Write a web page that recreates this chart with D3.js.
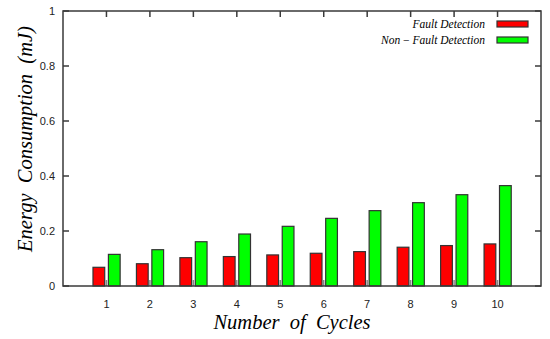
<!DOCTYPE html>
<meta charset="utf-8">
<script src="https://d3js.org/d3.v7.min.js"></script>
<style>
  body { margin: 0; background: #fff; }
  text { font-family: "Liberation Sans", Arial, sans-serif; }
  .serif { font-family: "Liberation Serif", "Times New Roman", serif; font-style: italic; white-space: pre; }
</style>
<div id="chart"></div>
<script>

    // data
    var cycles = [1, 2, 3, 4, 5, 6, 7, 8, 9, 10];
    var faultDetection    = [0.068, 0.081, 0.103, 0.107, 0.113, 0.119, 0.125, 0.141, 0.147, 0.153];
    var nonFaultDetection = [0.115, 0.132, 0.161, 0.189, 0.217, 0.246, 0.274, 0.303, 0.332, 0.365];
    var yTicks = [0, 0.2, 0.4, 0.6, 0.8, 1];
    var seriesNames = ["Fault Detection", "Non\u2009\u2212\u2009Fault Detection"];
    var seriesColors = ["#ff0000", "#00ff00"];

    // plot area
    var plotLeft = 63, plotRight = 541, plotTop = 11, plotBottom = 286;

    var x = d3.scaleLinear().domain([0, 11]).range([plotLeft, plotRight]);
    var y = d3.scaleLinear().domain([0, 1]).range([plotBottom, plotTop]);

    var svg = d3.select("#chart")
        .append("svg")
        .attr("width", 550)
        .attr("height", 339);

    var frameColor = "#3a3a3a";
    var tickLen = 6;

    // inward ticks on all four sides
    cycles.forEach(function(c) {
        svg.append("line").attr("x1", x(c)).attr("x2", x(c))
            .attr("y1", plotBottom).attr("y2", plotBottom - tickLen)
            .attr("stroke", "#888").attr("stroke-width", 1.5);
        svg.append("line").attr("x1", x(c)).attr("x2", x(c))
            .attr("y1", plotTop).attr("y2", plotTop + tickLen)
            .attr("stroke", frameColor).attr("stroke-width", 1.5);
    });
    yTicks.forEach(function(t) {
        svg.append("line").attr("x1", plotLeft).attr("x2", plotLeft + tickLen)
            .attr("y1", y(t)).attr("y2", y(t))
            .attr("stroke", frameColor).attr("stroke-width", 1.5);
        svg.append("line").attr("x1", plotRight).attr("x2", plotRight - tickLen)
            .attr("y1", y(t)).attr("y2", y(t))
            .attr("stroke", frameColor).attr("stroke-width", 1.5);
    });

    // bars
    var unit = x(1) - x(0);
    var barW = unit * 0.27;
    var series = [faultDetection, nonFaultDetection];
    var offsets = [-unit * 0.31, unit * 0.045];

    series.forEach(function(vals, si) {
        svg.selectAll(".bar" + si)
            .data(vals)
            .enter()
            .append("rect")
            .attr("class", "bar" + si)
            .attr("x", function(d, i) { return x(cycles[i]) + offsets[si]; })
            .attr("width", barW)
            .attr("y", function(d) { return y(d); })
            .attr("height", function(d) { return y(0) - y(d); })
            .style("fill", seriesColors[si])
            .style("stroke", "#333")
            .style("stroke-width", 1.2);
    });

    // frame
    svg.append("rect")
        .attr("x", plotLeft).attr("y", plotTop)
        .attr("width", plotRight - plotLeft).attr("height", plotBottom - plotTop)
        .attr("fill", "none")
        .attr("stroke", frameColor)
        .attr("stroke-width", 1.5);

    // tick labels
    svg.selectAll(".xlab")
        .data(cycles)
        .enter()
        .append("text")
        .attr("x", function(d) { return x(d); })
        .attr("y", 307.5)
        .attr("text-anchor", "middle")
        .style("font-size", "11px")
        .style("fill", "#222")
        .text(function(d) { return d; });

    svg.selectAll(".ylab")
        .data(yTicks)
        .enter()
        .append("text")
        .attr("x", 55)
        .attr("y", function(d) { return y(d) + 4; })
        .attr("text-anchor", "end")
        .style("font-size", "11px")
        .style("fill", "#222")
        .text(function(d) { return d; });

    // axis titles
    svg.append("text")
        .attr("class", "serif")
        .attr("x", 292)
        .attr("y", 328.5)
        .attr("text-anchor", "middle")
        .style("font-size", "20.5px")
        .text("Number  of  Cycles");

    svg.append("text")
        .attr("class", "serif")
        .attr("transform", "translate(32,139) rotate(-90)")
        .attr("text-anchor", "middle")
        .style("font-size", "20.5px")
        .text("Energy  Consumption  (mJ)");

    // legend
    seriesNames.forEach(function(name, i) {
        var ly = 24 + i * 16;
        svg.append("rect")
            .attr("x", 497).attr("y", ly - 3)
            .attr("width", 31).attr("height", 6)
            .style("fill", seriesColors[i])
            .style("stroke", "#333")
            .style("stroke-width", 1.2);
        svg.append("text")
            .attr("class", "serif")
            .attr("x", 485)
            .attr("y", ly + 3.5)
            .attr("text-anchor", "end")
            .style("font-size", "11.5px")
            .text(name);
    });

</script>
